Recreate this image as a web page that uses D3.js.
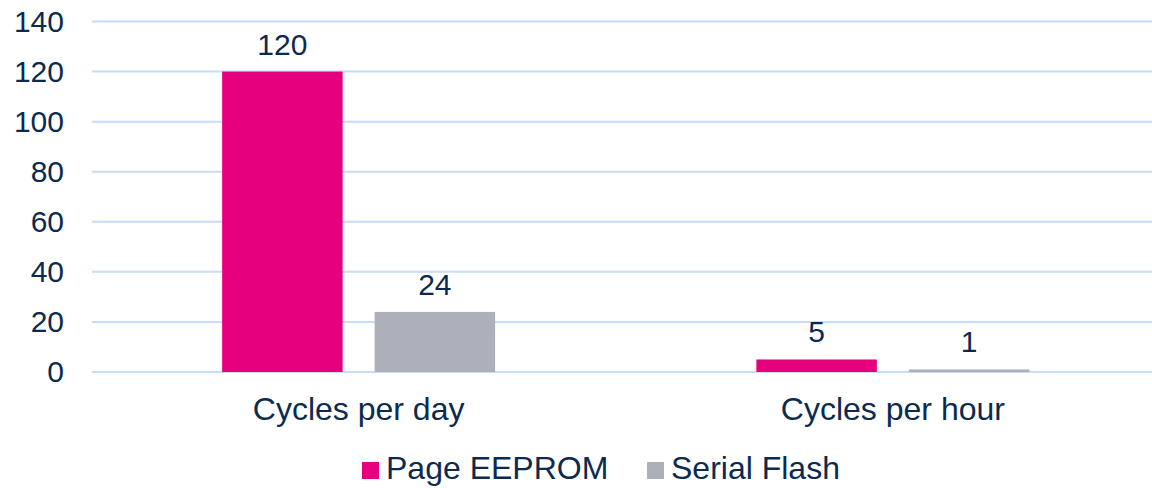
<!DOCTYPE html>
<html><head><meta charset="utf-8">
<script src="https://cdn.jsdelivr.net/npm/d3@7"></script>
<style>
html,body{margin:0;padding:0;background:#fff;}
svg{display:block;font-family:"Liberation Sans",Arial,sans-serif;}
</style></head>
<body>
<svg id="chart" width="1152" height="488"></svg>
<script>
const categories = ["Cycles per day", "Cycles per hour"];
const seriesNames = ["Page EEPROM", "Serial Flash"];
const pageEEPROM = [120, 5];
const serialFlash = [24, 1];
const yTicks = [0, 20, 40, 60, 80, 100, 120, 140];
const colors = ["#E6007E", "#ADAFBA"];
const textColor = "#0C2A50";
const FS = 32;

const svg = d3.select("#chart");
const x0 = d3.scaleBand().domain(categories).range([91.5, 1160]).paddingInner(0.489).paddingOuter(0.2445);
const x1 = d3.scaleBand().domain(seriesNames).range([0, x0.bandwidth()]).paddingInner(0.21).paddingOuter(0);
const y = d3.scaleLinear().domain([0, 140]).range([372, 21.5]);

// gridlines
svg.append("g").selectAll("line").data(yTicks).join("line")
  .attr("x1", 92).attr("x2", 1152)
  .attr("y1", d => y(d)).attr("y2", d => y(d))
  .attr("stroke", "#C6DCF7").attr("stroke-width", 2);

// y axis labels
const yAxis = d3.axisLeft(y).tickValues(yTicks).tickSize(0).tickPadding(0);
const ya = svg.append("g").attr("transform", "translate(64,0)").call(yAxis);
ya.select(".domain").remove();
ya.selectAll("text").attr("font-size", 30).attr("fill", textColor).attr("font-family", "Liberation Sans, Arial, sans-serif");

const data = seriesNames.map((s, i) => ({name: s, values: i === 0 ? pageEEPROM : serialFlash, color: colors[i]}));

const groups = svg.append("g").selectAll("g").data(categories).join("g")
  .attr("transform", d => `translate(${x0(d)},0)`);

groups.each(function(cat, ci) {
  const g = d3.select(this);
  data.forEach(s => {
    const v = s.values[ci];
    g.append("rect")
      .attr("x", x1(s.name)).attr("width", x1.bandwidth())
      .attr("y", y(v)).attr("height", y(0) - y(v))
      .attr("fill", s.color);
    g.append("text")
      .attr("x", x1(s.name) + x1.bandwidth() / 2)
      .attr("y", y(v) - 17)
      .attr("text-anchor", "middle")
      .attr("font-size", 30).attr("fill", textColor)
      .text(v);
  });
});

// x axis category labels
const xAxis = d3.axisBottom(x0).tickSize(0).tickPadding(0);
const xa = svg.append("g").attr("transform", "translate(0,420)").call(xAxis);
xa.select(".domain").remove();
xa.selectAll("text").attr("font-size", FS).attr("fill", textColor).attr("font-family", "Liberation Sans, Arial, sans-serif").attr("dy", "0");

// legend
const legendX = [362, 647];
const leg = svg.append("g").selectAll("g").data(data).join("g")
  .attr("transform", (d, i) => `translate(${legendX[i]},462)`);
leg.append("rect").attr("width", 17).attr("height", 17).attr("fill", d => d.color);
leg.append("text").attr("x", 24).attr("y", 17)
  .attr("font-size", FS).attr("fill", textColor).text(d => d.name);
</script>
</body></html>
